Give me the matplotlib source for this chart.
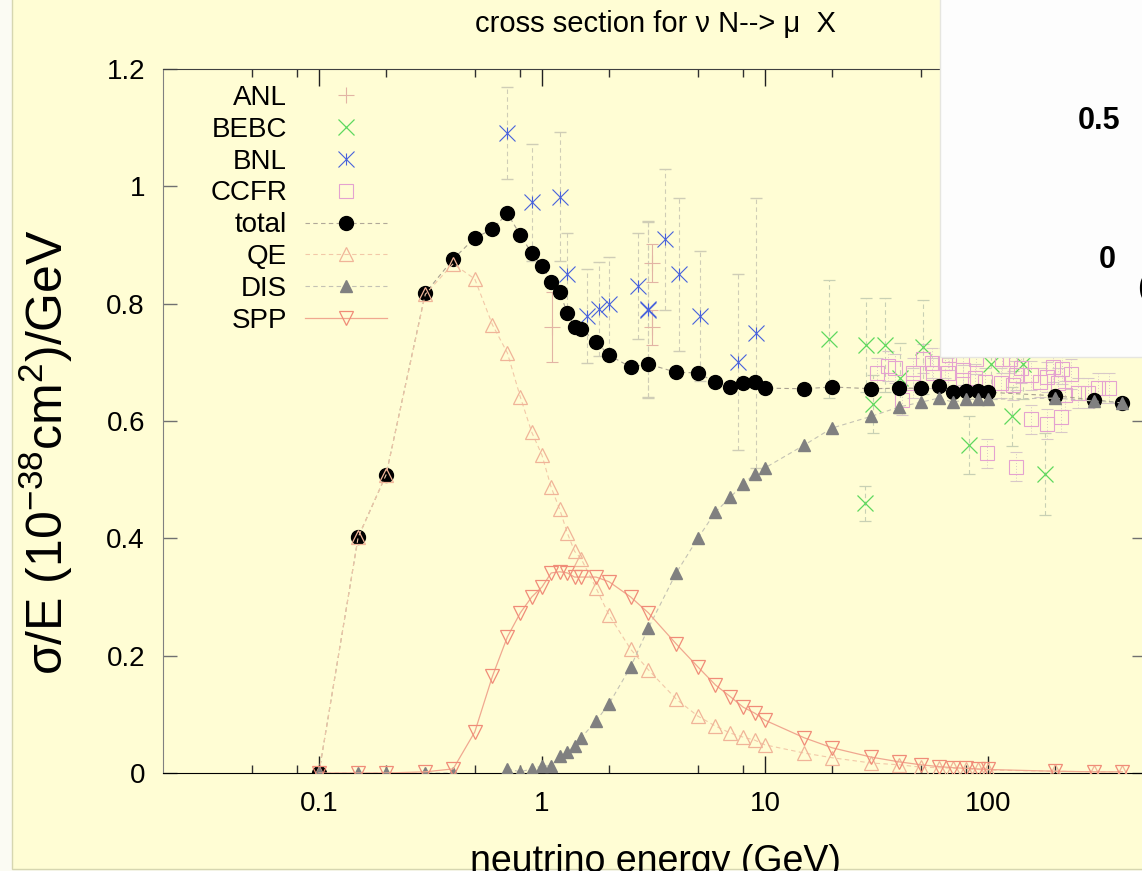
import numpy as np
import matplotlib
matplotlib.use('Agg')
import matplotlib.pyplot as plt
from matplotlib.lines import Line2D
from matplotlib.patches import Rectangle

# model curves, sigma/E vs E
energy = [0.1, 0.15, 0.2, 0.3, 0.4, 0.5, 0.6, 0.7, 0.8, 0.9, 1.0, 1.1, 1.2, 1.3, 1.4,
          1.5, 1.75, 2.0, 2.5, 3.0, 4, 5, 6, 7, 8, 9, 10, 15, 20, 30, 40, 50, 60, 70,
          80, 90, 100, 200, 300, 400]
total = [0.0, 0.402, 0.508, 0.818, 0.876, 0.912, 0.927, 0.954, 0.917, 0.886, 0.864,
         0.837, 0.820, 0.784, 0.760, 0.757, 0.735, 0.712, 0.692, 0.697, 0.683, 0.682,
         0.666, 0.658, 0.665, 0.666, 0.656, 0.655, 0.658, 0.655, 0.656, 0.656, 0.660,
         0.649, 0.651, 0.651, 0.649, 0.643, 0.636, 0.631]
qe = [0.0, 0.402, 0.508, 0.816, 0.868, 0.842, 0.764, 0.716, 0.641, 0.581, 0.542,
      0.487, 0.450, 0.409, 0.378, 0.365, 0.315, 0.269, 0.211, 0.176, 0.126, 0.097,
      0.080, 0.068, 0.061, 0.056, 0.048, 0.034, 0.026, 0.017, 0.014, 0.010, 0.009,
      0.008, 0.007, 0.006, 0.005, 0.003, 0.002, 0.002]
dis = [0.0, 0.0, 0.0, 0.0, 0.0, np.nan, np.nan, 0.007, 0.002, 0.007, 0.012, 0.012,
       0.029, 0.036, 0.046, 0.060, 0.089, 0.118, 0.181, 0.247, 0.341, 0.400, 0.445,
       0.470, 0.493, 0.510, 0.520, 0.559, 0.588, 0.608, 0.624, 0.632, 0.639, 0.632,
       0.637, 0.637, 0.637, 0.639, 0.634, 0.631]
spp = [0.0, 0.0, 0.0, 0.002, 0.007, 0.070, 0.165, 0.232, 0.273, 0.300, 0.317, 0.341,
       0.343, 0.341, 0.334, 0.334, 0.334, 0.326, 0.300, 0.273, 0.220, 0.181, 0.150,
       0.130, 0.112, 0.102, 0.090, 0.060, 0.043, 0.027, 0.019, 0.014, 0.011, 0.009,
       0.008, 0.007, 0.006, 0.003, 0.002, 0.002]

# measurements
anl_e = [1.11, 3.1, 3.1]
anl_y = [0.76, 0.869, 0.76]
anl_err = [0.06, 0.032, 0.03]

bebc_e = [19.4, 28.4, 34.5, 51.1, 103, 143, 40.3, 30.5, 128, 82, 180, 28.1]
bebc_y = [0.74, 0.73, 0.73, 0.726, 0.697, 0.697, 0.673, 0.629, 0.608, 0.559, 0.51, 0.46]
bebc_err = [0.1, 0.08, 0.08, 0.08, 0.06, 0.06, 0.06, 0.05, 0.05, 0.05, 0.07, 0.03]

bnl_e = [0.7, 0.9, 1.2, 1.3, 1.6, 1.8, 2.0, 2.7, 3.0, 3.0, 3.55, 4.1, 5.1, 7.6, 9.1]
bnl_y = [1.091, 0.973, 0.982, 0.851, 0.779, 0.791, 0.80, 0.83, 0.791, 0.789, 0.91,
         0.85, 0.779, 0.70, 0.75]
bnl_err = [0.078, 0.10, 0.11, 0.07, 0.08, 0.08, 0.08, 0.09, 0.15, 0.15, 0.12, 0.13,
           0.11, 0.15, 0.23]

ccfr_e = [31.8, 35.6, 38.3, 46.1, 46.1, 41.1, 51.1, 56.1, 56.7, 64.1, 66.2, 77.3, 77.3,
          87.4, 97, 114, 116, 126, 129, 134, 156, 171, 184, 196, 206, 236, 253, 281,
          311, 349, 221, 156, 184, 212, 99, 134, 67, 88, 140, 215]
ccfr_y = [0.682, 0.694, 0.69, 0.682, 0.665, 0.636, 0.706, 0.699, 0.682, 0.699, 0.682,
          0.687, 0.67, 0.673, 0.666, 0.665, 0.706, 0.706, 0.661, 0.678, 0.678, 0.666,
          0.675, 0.692, 0.665, 0.68, 0.648, 0.648, 0.656, 0.656, 0.644, 0.603, 0.595,
          0.607, 0.545, 0.522, 0.712, 0.705, 0.69, 0.688]
ccfr_err = [0.025] * len(ccfr_e)

xticks = [0.1, 1, 10, 100]
xticklabels = ['0.1', '1', '10', '100']
xminor = [0.05, 0.08, 0.2, 0.5, 0.8, 2, 5, 8, 20, 50, 80, 200]
yticks = [0, 0.2, 0.4, 0.6, 0.8, 1.0, 1.2]
yticklabels = ['0', '0.2', '0.4', '0.6', '0.8', '1', '1.2']

plt.rcParams['font.family'] = ['Liberation Sans', 'DejaVu Sans']
plt.rcParams['mathtext.fontset'] = 'custom'
plt.rcParams['mathtext.rm'] = 'Liberation Sans'
plt.rcParams['mathtext.default'] = 'regular'

W, H = 1142, 871
yellow = '#fffdd4'
fig = plt.figure(figsize=(W / 100, H / 100), dpi=100)
fig.patch.set_facecolor('#fbfbf3')
fig.add_artist(Rectangle((12 / W, 2 / H), 1, 1, transform=fig.transFigure,
                         fc=yellow, ec='#d6d6b0', lw=1, zorder=-1))

ax = fig.add_axes([163 / W, (H - 773) / H, (1146 - 163) / W, (773 - 69) / H])
ax.set_facecolor('none')
ax.set_xscale('log')
ax.set_xlim(0.02, 511)
ax.set_ylim(0, 1.2)

dash = (0, (4, 3))
bnl_col = '#4862dc'
# data sets
eb = ax.errorbar(anl_e, anl_y, yerr=anl_err, fmt='+', ms=11, mew=0.8, color='#e2b4a4',
                 ecolor='#e2b4a4', elinewidth=0.8, capsize=4, zorder=2)
eb = ax.errorbar(bebc_e, bebc_y, yerr=bebc_err, fmt='x', ms=11, mew=0.9, color='#5ed85e',
                 ecolor='#c8d0b4', elinewidth=0.8, capsize=4, zorder=2)
eb[2][0].set_linestyle(dash)
eb = ax.errorbar(bnl_e, bnl_y, yerr=bnl_err, fmt='none', ecolor='#cfcdb6',
                 elinewidth=0.8, capsize=4, zorder=2)
eb[2][0].set_linestyle(dash)
ax.plot(bnl_e, bnl_y, ls='none', marker='x', ms=11, mew=0.8, color=bnl_col, zorder=2)
ax.plot(bnl_e, bnl_y, ls='none', marker='|', ms=9, mew=0.8, color=bnl_col, zorder=2)
eb = ax.errorbar(ccfr_e, ccfr_y, yerr=ccfr_err, fmt='s', ms=10, mew=0.8, mfc='none',
                 mec='#e4a2d0', ecolor='#d8c8c8', elinewidth=0.7, capsize=4, zorder=2)
eb[2][0].set_linestyle((0, (1, 2)))

# model curves
ax.plot(energy, total, ls=dash, lw=0.8, color='#a8a090', marker='o', ms=10,
        mfc='black', mec='black', zorder=3)
ax.plot(energy, qe, ls=dash, lw=0.8, color='#f2c8a8', marker='^', ms=10, mfc='none',
        mec='#f0b498', mew=0.9, zorder=4)
ax.plot(energy, dis, ls=dash, lw=0.8, color='#c4c2b4', marker='^', ms=9, mfc='#808080',
        mec='#808080', zorder=5)
ax.plot(energy, spp, ls='-', lw=0.9, color='#f0a890', marker='v', ms=10, mfc='none',
        mec='#f08c78', mew=0.9, zorder=6)

# axes styling
ax.spines['left'].set_color('#808080')
ax.spines['bottom'].set_color('black')
ax.spines['top'].set_color('#404040')
ax.spines['right'].set_color('#404040')
ax.set_xticks(xticks, labels=xticklabels)
ax.set_xticks(xminor, minor=True)
ax.set_xticklabels([], minor=True)
ax.set_yticks(yticks, labels=yticklabels)
ax.tick_params(axis='x', which='major', direction='in', length=12, width=1,
               top=True, color='#202020', labelsize=20, pad=13)
ax.tick_params(axis='x', which='minor', direction='in', length=6, width=1,
               top=True, color='#303030')
ax.tick_params(axis='y', which='major', direction='in', length=10, width=1,
               right=True, color='#707070', labelsize=20, pad=13)

# legend
handles = [
    Line2D([], [], ls='none', marker='+', ms=11, mew=0.8, color='#e2b4a4'),
    Line2D([], [], ls='none', marker='x', ms=11, mew=0.9, color='#5ed85e'),
    (Line2D([], [], ls='none', marker='x', ms=11, mew=0.8, color=bnl_col),
     Line2D([], [], ls='none', marker='|', ms=9, mew=0.8, color=bnl_col)),
    Line2D([], [], ls='none', marker='s', ms=10, mew=0.8, mfc='none', mec='#e4a2d0'),
    Line2D([], [], ls=dash, lw=0.8, color='#b0a898', marker='o', ms=10,
           mfc='black', mec='black'),
    Line2D([], [], ls=dash, lw=0.8, color='#f2c8a8', marker='^', ms=10, mfc='none',
           mec='#f0b498', mew=0.9),
    Line2D([], [], ls=dash, lw=0.8, color='#c4c2b4', marker='^', ms=9,
           mfc='#808080', mec='#808080'),
    Line2D([], [], ls='-', lw=0.9, color='#f0a890', marker='v', ms=10, mfc='none',
           mec='#f08c78', mew=0.9),
]
labels = ['ANL', 'BEBC', 'BNL', 'CCFR', 'total', 'QE', 'DIS', 'SPP']
ax.legend(handles, labels, loc='upper right', bbox_to_anchor=(387 / W, 1 - 85 / H),
          bbox_transform=fig.transFigure, frameon=False, markerfirst=False,
          fontsize=20, handlelength=2.95, handletextpad=0.65, labelspacing=0.21,
          borderpad=0, borderaxespad=0)

fig.text(655 / W, 1 - 32 / H, 'cross section for \u03bd N--> \u03bc  X', fontsize=21,
         ha='center', va='baseline')
fig.text(46 / W, 1 - 452 / H, '\u03c3/E (10$^{-38}$cm$^{2}$)/GeV', fontsize=36,
         rotation=90, ha='center', va='center')
fig.text(656 / W, 1 - 872 / H, 'neutrino energy (GeV)', fontsize=27, ha='center',
         va='baseline')

# pasted white panel in the top right corner
fig.add_artist(Rectangle((940 / W, 1 - 357 / H), 1, 1, transform=fig.transFigure,
                         fc='#fdfdfd', ec='#e6e6e0', lw=1, zorder=10))
fig.text(1099 / W, 1 - 121 / H, '0.5', fontsize=22, weight='bold', ha='center',
         va='center', zorder=11)
fig.text(1107 / W, 1 - 260 / H, '0', fontsize=22, weight='bold', ha='center',
         va='center', zorder=11)
fig.text(1137 / W, 1 - 288 / H, '(', fontsize=22, ha='left', va='center', zorder=11)

fig.savefig('out.png', dpi=100, facecolor=fig.get_facecolor())
